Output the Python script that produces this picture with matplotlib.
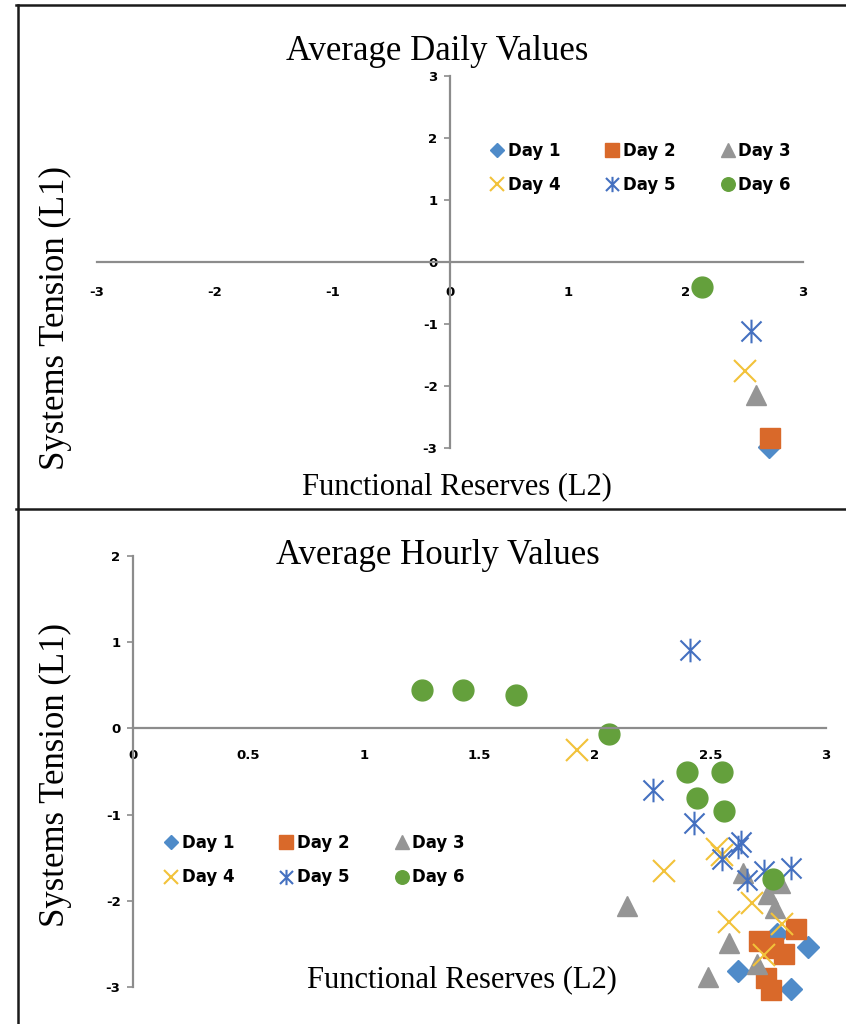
import matplotlib
matplotlib.use('Agg')
import matplotlib.pyplot as plt
from matplotlib.lines import Line2D
from matplotlib.path import Path

plt.rcParams['axes.unicode_minus'] = False

# ---- data: average daily values (one point per day) ----
daily_day1_x = [2.71]
daily_day1_y = [-2.98]
daily_day2_x = [2.72]
daily_day2_y = [-2.84]
daily_day3_x = [2.60]
daily_day3_y = [-2.15]
daily_day4_x = [2.51]
daily_day4_y = [-1.76]
daily_day5_x = [2.56]
daily_day5_y = [-1.11]
daily_day6_x = [2.14]
daily_day6_y = [-0.40]

# ---- data: average hourly values ----
hourly_day1_x = [2.62, 2.85, 2.92, 2.79]
hourly_day1_y = [-2.82, -3.02, -2.54, -2.39]
hourly_day2_x = [2.71, 2.87, 2.82, 2.77, 2.74, 2.76]
hourly_day2_y = [-2.47, -2.33, -2.62, -2.55, -2.90, -3.04]
hourly_day3_x = [2.14, 2.58, 2.49, 2.70, 2.64, 2.78, 2.75, 2.80]
hourly_day3_y = [-2.06, -2.49, -2.88, -2.73, -1.68, -2.08, -1.92, -1.79]
hourly_day4_x = [1.92, 2.30, 2.55, 2.53, 2.68, 2.58, 2.81, 2.73]
hourly_day4_y = [-0.25, -1.65, -1.47, -1.40, -2.02, -2.25, -2.27, -2.63]
hourly_day5_x = [2.41, 2.25, 2.43, 2.63, 2.62, 2.55, 2.66, 2.73, 2.85]
hourly_day5_y = [0.91, -0.71, -1.10, -1.32, -1.38, -1.51, -1.76, -1.65, -1.62]
hourly_day6_x = [1.25, 1.43, 1.66, 2.06, 2.40, 2.55, 2.44, 2.56, 2.77]
hourly_day6_y = [0.45, 0.45, 0.39, -0.06, -0.51, -0.51, -0.81, -0.96, -1.75]

day_labels = ['Day 1', 'Day 2', 'Day 3', 'Day 4', 'Day 5', 'Day 6']

daily_xticks = [-3, -2, -1, 0, 1, 2, 3]
daily_yticks = [-3, -2, -1, 0, 1, 2, 3]
hourly_xticks = [0, 0.5, 1, 1.5, 2, 2.5, 3]
hourly_xticklabels = ['0', '0.5', '1', '1.5', '2', '2.5', '3']
hourly_yticks = [-3, -2, -1, 0, 1, 2]

# excel style star: X with a vertical bar
star = Path([(0, -1), (0, 1), (-0.85, -0.85), (0.85, 0.85), (-0.85, 0.85), (0.85, -0.85)],
            [Path.MOVETO, Path.LINETO, Path.MOVETO, Path.LINETO, Path.MOVETO, Path.LINETO])

styles = [
    dict(marker='D', color='#4F8BC9', markersize=11, linestyle='none'),
    dict(marker='s', color='#D9692A', markersize=15, linestyle='none'),
    dict(marker='^', color='#959595', markersize=15, linestyle='none'),
    dict(marker='x', color='#F2C23A', markersize=16, markeredgewidth=1.5, linestyle='none'),
    dict(marker=star, color='#4470C0', markersize=17, markeredgewidth=1.5, linestyle='none', fillstyle='none'),
    dict(marker='o', color='#64A03C', markersize=15, linestyle='none'),
]

AXIS_GRAY = '#8c8c8c'
serif = 'Liberation Serif'

W, H = 846, 1024
fig = plt.figure(figsize=(W / 100, H / 100), dpi=100)


def fx(px):
    return px / W


def fy(py):
    return 1 - py / H


def setup_axes(ax, xpad):
    ax.spines['top'].set_visible(False)
    ax.spines['right'].set_visible(False)
    ax.spines['bottom'].set_position('zero')
    for s in ['left', 'bottom']:
        ax.spines[s].set_color(AXIS_GRAY)
        ax.spines[s].set_linewidth(1.6)
    ax.tick_params(axis='x', length=0, pad=xpad)
    ax.tick_params(axis='y', length=4, width=1.2, color=AXIS_GRAY, pad=5)
    for lab in ax.get_xticklabels() + ax.get_yticklabels():
        lab.set_fontsize(9.5)
        lab.set_fontweight('bold')
        lab.set_family('DejaVu Sans')
    ax.patch.set_alpha(0)


def add_legend(ax, lines, cx, cy):
    # matplotlib fills legend columns first, excel fills rows first
    order = [0, 3, 1, 4, 2, 5]
    leg = ax.legend([lines[i] for i in order], [day_labels[i] for i in order],
                    loc='center', bbox_to_anchor=(fx(cx), fy(cy)), bbox_transform=fig.transFigure,
                    ncol=3, frameon=False, markerscale=0.65, handlelength=1.0, handletextpad=0.15,
                    columnspacing=2.6, labelspacing=1.0,
                    prop={'family': 'DejaVu Sans', 'weight': 'bold', 'size': 12})
    return leg


# ---- top chart: average daily values ----
ax1 = fig.add_axes([fx(97), fy(448), fx(803) - fx(97), fy(76) - fy(448)])
daily_x = [daily_day1_x, daily_day2_x, daily_day3_x, daily_day4_x, daily_day5_x, daily_day6_x]
daily_y = [daily_day1_y, daily_day2_y, daily_day3_y, daily_day4_y, daily_day5_y, daily_day6_y]
lines1 = []
for i in range(6):
    ln, = ax1.plot(daily_x[i], daily_y[i], label=day_labels[i], clip_on=False, **styles[i])
    lines1.append(ln)
ax1.set_xlim(-3, 3)
ax1.set_ylim(-3, 3)
ax1.spines['left'].set_position('zero')
ax1.set_xticks(daily_xticks)
ax1.set_yticks(daily_yticks)
setup_axes(ax1, 17)
add_legend(ax1, lines1, 640, 168)

# ---- bottom chart: average hourly values ----
ax2 = fig.add_axes([fx(133), fy(987), fx(826) - fx(133), fy(556) - fy(987)])
hourly_x = [hourly_day1_x, hourly_day2_x, hourly_day3_x, hourly_day4_x, hourly_day5_x, hourly_day6_x]
hourly_y = [hourly_day1_y, hourly_day2_y, hourly_day3_y, hourly_day4_y, hourly_day5_y, hourly_day6_y]
lines2 = []
for i in range(6):
    ln, = ax2.plot(hourly_x[i], hourly_y[i], label=day_labels[i], clip_on=False, **styles[i])
    lines2.append(ln)
ax2.set_xlim(0, 3)
ax2.set_ylim(-3, 2)
ax2.set_xticks(hourly_xticks)
ax2.set_xticklabels(hourly_xticklabels)
ax2.set_yticks(hourly_yticks)
setup_axes(ax2, 15)
add_legend(ax2, lines2, 314, 860)

# ---- titles and axis labels ----
fig.text(fx(437), fy(52), 'Average Daily Values', family=serif, fontsize=25, ha='center', va='center')
fig.text(fx(457), fy(487), 'Functional Reserves (L2)', family=serif, fontsize=22, ha='center', va='center')
fig.text(fx(55), fy(318), 'Systems Tension (L1)', family=serif, fontsize=25, ha='center', va='center',
         rotation=90)
fig.text(fx(438), fy(555), 'Average Hourly Values', family=serif, fontsize=25, ha='center', va='center')
fig.text(fx(462), fy(980), 'Functional Reserves (L2)', family=serif, fontsize=22, ha='center', va='center')
fig.text(fx(55), fy(775), 'Systems Tension (L1)', family=serif, fontsize=25, ha='center', va='center',
         rotation=90)

# ---- panel borders ----
fig.add_artist(Line2D([fx(16), 1], [fy(5), fy(5)], color='#1a1a1a', lw=1.8, transform=fig.transFigure))
fig.add_artist(Line2D([fx(16), 1], [fy(509), fy(509)], color='#1a1a1a', lw=1.8, transform=fig.transFigure))
fig.add_artist(Line2D([fx(18), fx(18)], [fy(5), 0], color='#1a1a1a', lw=1.8, transform=fig.transFigure))

fig.savefig('out.png', dpi=100)
